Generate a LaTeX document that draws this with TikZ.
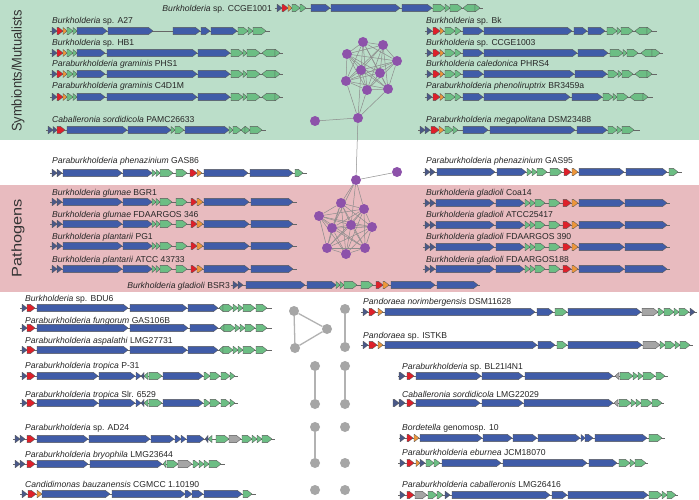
\documentclass[tikz,border=0pt]{standalone}
\usepackage{fontspec}
\setmainfont{Liberation Sans}

\definecolor{symbg}{RGB}{187,222,201}
\definecolor{pathbg}{RGB}{232,187,191}
\definecolor{gblue}{RGB}{64,92,168}
\definecolor{gdark}{RGB}{74,88,136}
\definecolor{gred}{RGB}{222,32,42}
\definecolor{gorange}{RGB}{238,150,58}
\definecolor{ggreen}{RGB}{108,190,132}
\definecolor{ggray}{RGB}{165,165,165}
\definecolor{netpurple}{RGB}{141,82,170}
\definecolor{netgray}{RGB}{166,166,166}

\pgfdeclarelayer{back}
\pgfdeclarelayer{edges}
\pgfsetlayers{back,edges,main}

\tikzset{
  gene/.style={draw=black!65,line width=0.35pt,line join=round},
  gb/.style={gene,fill=gblue},
  gd/.style={gene,fill=gdark},
  gr/.style={gene,fill=gred},
  go/.style={gene,fill=gorange},
  gg/.style={gene,fill=ggreen},
  gy/.style={gene,fill=ggray},
  bbone/.style={draw=black!60,line width=0.5pt},
  spp/.style={anchor=base west,inner sep=0pt,text=black!85,
    font=\fontsize{8.6}{10}\selectfont},
  sppr/.style={spp,anchor=base east},
  grouplab/.style={rotate=90,inner sep=0pt,text=black!80,
    font=\fontsize{14}{16}\selectfont},
  pnode/.style={circle,fill=netpurple,minimum size=10pt,inner sep=0pt},
  pedge/.style={draw=black!45,line width=0.5pt},
  hnode/.style={circle,fill=netgray,minimum size=10pt,inner sep=0pt},
  hedge/.style={draw=black!30,line width=1.3pt}
}

% one gene arrow: from x #1 to x #2 (tip), row #3, style #4
\newcommand{\gn}[4]{%
  \pgfmathsetmacro{\gnlen}{#2-#1}%
  \pgfmathsetmacro{\gnhd}{ifthenelse(abs(\gnlen)<5,\gnlen,ifthenelse(\gnlen>0,4.5,-4.5))}%
  \draw[#4] (#1,#3-3.6) -- ({#2-\gnhd},#3-3.6) -- (#2,#3) -- ({#2-\gnhd},#3+3.6) -- (#1,#3+3.6) -- cycle;}
% a whole cluster: row y, backbone from/to, genes
\newcommand{\generow}[4]{%
  \draw[bbone] (#2,#1) -- (#3,#1);
  \foreach \ga/\gz/\gs in {#4} {\gn{\ga}{\gz}{#1}{\gs}}}

\begin{document}
\begin{tikzpicture}[x=1pt,y=-1pt]
  \useasboundingbox (0,0) rectangle (699,500);
  \begin{pgfonlayer}{back}
    \fill[white] (0,0) rectangle (699,500);
    \fill[symbg] (0,0) rectangle (699,140);
    \fill[pathbg] (0,185) rectangle (699,292);
  \end{pgfonlayer}

  \node[grouplab,xscale=0.92] (symlab) at (18,71) {Symbionts/Mutualists};
  \node[grouplab,xscale=1.17] (pathlab) at (18,238) {Pathogens};

  % strain names
  \node[sppr] (ccge1001) at (272,11.5) {\textit{Burkholderia} sp. CCGE1001};
  \node[sppr] (bsr3) at (230,288) {\textit{Burkholderia gladioli} BSR3};
  \foreach \lx/\ly/\nm/\tx in {
    52/23.5/a27/{\textit{Burkholderia} sp. A27},
    52/45.5/hb1/{\textit{Burkholderia} sp. HB1},
    52/67/phs1/{\textit{Paraburkholderia graminis} PHS1},
    52/88.5/c4d1m/{\textit{Paraburkholderia graminis} C4D1M},
    52/122.5/pamc/{\textit{Caballeronia sordidicola} PAMC26633},
    426/23.5/bk/{\textit{Burkholderia} sp. Bk},
    426/45.5/ccge1003/{\textit{Burkholderia} sp. CCGE1003},
    426/67/phrs4/{\textit{Burkholderia caledonica} PHRS4},
    426/88.5/br3459a/{\textit{Paraburkholderia phenoliruptrix} BR3459a},
    426/122.5/dsm23488/{\textit{Paraburkholderia megapolitana} DSM23488},
    52/163.5/gas86/{\textit{Paraburkholderia phenazinium} GAS86},
    426/163.5/gas95/{\textit{Paraburkholderia phenazinium} GAS95},
    52/196/bgr1/{\textit{Burkholderia glumae} BGR1},
    52/217.5/fda346/{\textit{Burkholderia glumae} FDAARGOS 346},
    52/239.5/pg1/{\textit{Burkholderia plantarii} PG1},
    52/262/atcc43733/{\textit{Burkholderia plantarii} ATCC 43733},
    426/196/coa14/{\textit{Burkholderia gladioli} Coa14},
    426/217.5/atcc25417/{\textit{Burkholderia gladioli} ATCC25417},
    426/239.5/fda390/{\textit{Burkholderia gladioli} FDAARGOS 390},
    426/262/fda188/{\textit{Burkholderia gladioli} FDAARGOS188},
    25/301.5/bdu6/{\textit{Burkholderia} sp. BDU6},
    25/323/gas106b/{\textit{Paraburkholderia fungorum} GAS106B},
    25/343/lmg27731/{\textit{Paraburkholderia aspalathi} LMG27731},
    25/368.5/p31/{\textit{Paraburkholderia tropica} P-31},
    25/397/slr6529/{\textit{Paraburkholderia tropica} Slr. 6529},
    25/430/ad24/{\textit{Paraburkholderia} sp. AD24},
    25/457/lmg23644/{\textit{Paraburkholderia bryophila} LMG23644},
    25/487.5/cgmcc/{\textit{Candidimonas bauzanensis} CGMCC 1.10190},
    363/304.5/dsm11628/{\textit{Pandoraea norimbergensis} DSM11628},
    363/338/istkb/{\textit{Pandoraea} sp. ISTKB},
    402/369/bl21/{\textit{Paraburkholderia} sp. BL21I4N1},
    402/397/lmg22029/{\textit{Caballeronia sordidicola} LMG22029},
    402/430/bordet/{\textit{Bordetella} genomosp. 10},
    402/455/jcm18070/{\textit{Paraburkholderia eburnea} JCM18070},
    402/487.5/lmg26416/{\textit{Paraburkholderia caballeronis} LMG26416}}
    \node[spp] (\nm) at (\lx,\ly) {\tx};

  % gene clusters, symbionts
  \generow{8}{275}{483}{277/282/gd, 282/288/gr, 288/292/go, 292/300/gg, 300/306/gg, 311/330/gb, 331/400/gb, 402/432/gb, 433/445/gg, 445/450/gg, 450/462/gg, 475/463/gg, 475/480/gg}
  \generow{31}{50}{270}{52/57/gd, 57/63/gr, 63/67/go, 67/73/gg, 73/77/gg, 77/107/gb, 108/153/gb, 173/200/gb, 201/210/gb, 211/237/gb, 238/248/gg, 248/253/gg, 253/266/gg}
  \foreach \ry in {53,74,97}
    \generow{\ry}{50}{283}{52/57/gd, 57/63/gr, 63/67/go, 67/73/gg, 73/77/gg, 77/105/gb, 107/197/gb, 198/230/gb, 231/243/gg, 243/247/gg, 247/260/gg, 275/262/gg, 275/280/gg};
  \generow{130}{46}{266}{48/53/gd, 53/57/gd, 57/65/gr, 67/127/gb, 128/171/gb, 171/175/gg, 175/184/gg, 185/229/gb, 229/233/gg, 233/241/gg, 245/241/gg, 245/250/gg, 250/262/gg}
  \generow{31}{425}{657}{427/432/gd, 433/440/gr, 440/444/go, 445/455/gg, 455/461/gg, 463/483/gb, 484/572/gb, 574/587/gb, 588/605/gb, 607/617/gg, 617/621/gg, 621/633/gg, 647/635/gg, 647/652/gg}
  \generow{53}{425}{663}{427/432/gd, 433/440/gr, 440/444/go, 445/455/gg, 455/461/gg, 463/483/gb, 484/577/gb, 578/608/gb, 610/623/gg, 623/627/gg, 627/638/gg, 652/641/gg, 652/660/gg}
  \generow{74}{425}{657}{427/432/gd, 433/440/gr, 440/444/go, 445/455/gg, 455/461/gg, 463/483/gb, 484/574/gb, 575/607/gb, 608/618/gg, 618/622/gg, 622/633/gg, 647/635/gg, 647/652/gg}
  \generow{97}{425}{653}{427/432/gd, 433/440/gr, 440/444/go, 445/455/gg, 455/461/gg, 463/483/gb, 484/570/gb, 572/602/gb, 603/613/gg, 613/617/gg, 617/628/gg, 643/630/gg, 643/648/gg}
  \generow{130}{418}{640}{420/425/gd, 425/430/gd, 431/439/gr, 439/444/go, 445/453/gg, 453/458/gg, 463/488/gb, 490/575/gb, 577/607/gb, 608/617/gg, 617/622/gg, 622/634/gg}

  % phenazinium
  \generow{173}{50}{307}{52/57/gd, 57/62/gd, 63/122/gb, 123/152/gb, 152/156/gg, 156/160/gg, 160/173/gg, 176/187/gg, 190/197/gr, 197/202/go, 204/248/gb, 250/293/gb, 295/303/gg}
  \generow{172}{423}{682}{425/430/gd, 430/435/gd, 437/495/gb, 497/526/gb, 527/532/gg, 532/537/gg, 537/547/gg, 550/562/gg, 564/571/gr, 572/578/go, 579/624/gb, 626/667/gb, 669/678/gg}

  % pathogens
  \foreach \ry in {202,224,246,269}
    \generow{\ry}{50}{297}{52/57/gd, 57/62/gd, 63/122/gb, 123/152/gb, 152/156/gg, 156/160/gg, 160/172/gg, 176/187/gg, 191/197/gr, 197/203/go, 204/249/gb, 251/293/gb};
  \foreach \ry in {203,225,247,269}
    \generow{\ry}{423}{670}{425/430/gd, 430/435/gd, 436/494/gb, 496/524/gb, 525/530/gg, 530/535/gg, 535/545/gg, 549/560/gg, 563/571/gr, 572/578/go, 579/624/gb, 625/667/gb};
  \generow{285}{231}{480}{233/238/gd, 238/243/gd, 246/305/gb, 307/336/gb, 336/340/gg, 340/344/gg, 344/357/gg, 361/373/gg, 376/383/gr, 383/389/go, 391/435/gb, 437/478/gb}

  % other hosts
  \foreach \ry in {308,350}
    \generow{\ry}{20}{272}{22/27/gd, 27/35/gr, 37/128/gb, 130/187/gb, 188/218/gb, 223/219/gg, 223/233/gg, 233/238/gg, 238/243/gg, 243/255/gg, 256/267/gg};
  \generow{328}{20}{272}{22/27/gd, 27/35/gr, 37/128/gb, 130/188/gb, 190/218/gb, 224/220/gg, 224/235/gg, 235/240/gg, 240/245/gg, 245/255/gg, 256/267/gg}
  \foreach \ry in {376,403}
    \generow{\ry}{20}{238}{22/27/gd, 27/35/gr, 37/98/gb, 99/135/gb, 136/141/gb, 144/141/gd, 148/144/gg, 149/162/gg, 163/203/gb, 204/210/gg, 210/220/gg, 221/230/gg, 230/235/gg};
  \generow{439}{13}{275}{15/20/gd, 20/25/gd, 27/35/gr, 37/88/gb, 89/150/gb, 151/174/gb, 175/181/gb, 181/186/gb, 187/204/gb, 208/205/gd, 212/208/gg, 216/229/gg, 229/241/gy, 242/252/gg, 252/257/gg, 257/262/gg, 262/272/gg}
  \generow{464}{13}{225}{15/20/gd, 20/25/gd, 27/35/gr, 37/88/gb, 90/162/gb, 166/163/gg, 167/178/gg, 178/192/gy, 193/199/gg, 199/204/gg, 204/209/gg, 209/221/gg}
  \generow{494}{20}{256}{22/27/gd, 28/36/gr, 37/42/go, 42/110/gb, 112/185/gb, 185/192/gb, 192/203/gb, 204/242/gb, 243/252/gg}

  \generow{312}{361}{697}{363/368/gd, 369/376/gr, 378/383/go, 385/535/gb, 537/553/gb, 555/567/gg, 568/641/gb, 642/658/gy, 658/664/gg, 664/674/gg, 674/679/gg, 679/689/gg, 690/695/gd}
  \generow{345}{361}{693}{363/368/gd, 369/377/gr, 378/383/go, 385/537/gb, 538/555/gb, 557/567/gg, 568/642/gb, 643/660/gy, 660/665/gg, 665/675/gg, 675/680/gg, 680/690/gg}
  \generow{376}{398}{668}{399/405/gd, 407/414/gr, 416/481/gb, 482/523/gb, 525/613/gb, 619/615/gy, 620/633/gg, 633/638/gg, 638/643/gg, 643/655/gg, 656/665/gg}
  \generow{403}{393}{664}{393/399/gd, 399/405/gd, 407/414/gr, 416/480/gb, 482/523/gb, 524/613/gb, 618/614/gy, 619/631/gg, 631/636/gg, 636/641/gg, 641/652/gg, 652/662/gg}
  \generow{438}{399}{665}{400/405/gd, 407/413/gr, 414/419/go, 420/482/gb, 483/512/gb, 513/537/gb, 538/580/gb, 581/585/gb, 585/593/gb, 595/647/gb, 649/662/gg}
  \generow{463}{398}{648}{400/405/gd, 407/414/gr, 416/420/go, 420/425/gd, 426/434/gg, 434/440/gg, 442/501/gb, 503/587/gb, 589/617/gb, 619/630/gg, 630/635/gg, 635/646/gg}
  \generow{495}{398}{678}{400/405/gd, 407/414/gr, 415/427/gy, 428/437/gg, 437/443/gg, 445/450/gd, 452/550/gb, 552/567/gb, 568/648/gb, 649/662/gg, 662/667/gg, 667/676/gg}

  % similarity network
  \foreach \nm/\px/\py in {n1/363/42, n2/383/45, n3/347/54, n4/397/61, n5/361/70,
      n6/380/73, n7/346/81, n8/367/90, n9/388/89, hub/358/118, leaf/315/121,
      p1/341/203, p2/364/209, p3/319/216, p4/332/228, p5/351/225, p6/372/227,
      p7/327/248, p8/346/254, p9/365/248, hubp/356/180, leafp/397/172}
    \node[pnode] (\nm) at (\px,\py) {};
  \begin{pgfonlayer}{edges}
    \foreach \i in {1,...,8} {
      \pgfmathtruncatemacro{\k}{\i+1}
      \foreach \j in {\k,...,9} {
        \draw[pedge] (n\i) -- (n\j);
        \draw[pedge] (p\i) -- (p\j);
      }
    }
    \foreach \nm in {n5,n7,n8,n9,leaf,hubp}
      \draw[pedge] (hub) -- (\nm);
    \foreach \nm in {p1,p2,p4,p5,leafp}
      \draw[pedge] (hubp) -- (\nm);
  \end{pgfonlayer}

  \foreach \nm/\px/\py in {g1/294/311, g2/327/329, g3/295/348, g4/345/309, g5/345/347,
      g6/315/366, g7/315/404, g8/345/366, g9/345/404, g10/315/427, g11/315/463,
      g12/345/427, g13/345/463, g14/315/490, g15/345/490}
    \node[hnode] (\nm) at (\px,\py) {};
  \foreach \a/\b in {g1/g2, g2/g3, g3/g1, g4/g5, g6/g7, g8/g9, g10/g11}
    \draw[hedge] (\a) -- (\b);
\end{tikzpicture}
\end{document}
